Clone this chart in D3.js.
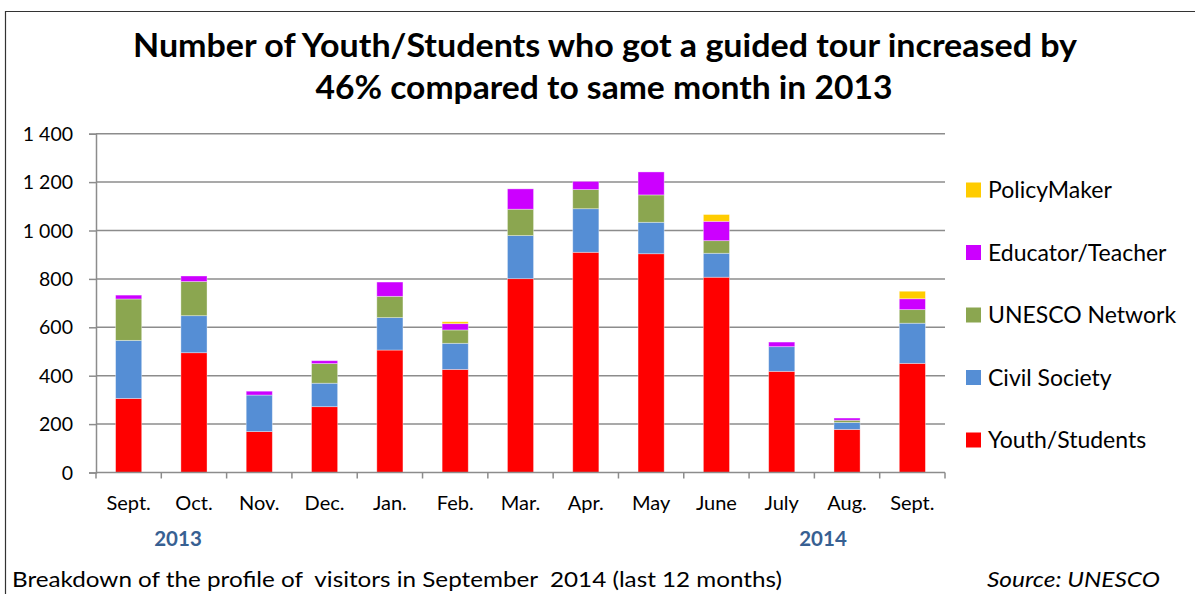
<!DOCTYPE html>
<html><head><meta charset="utf-8">
<script src="https://cdn.jsdelivr.net/npm/d3@7"></script>
<style>
body{margin:0;background:#fff;}
text{font-family:Lato,"Open Sans",sans-serif;}
</style></head>
<body><svg id="c" width="1195" height="594"></svg>
<script>
const months = ["Sept.","Oct.","Nov.","Dec.","Jan.","Feb.","Mar.","Apr.","May","June","July","Aug.","Sept."];
const youthStudents   = [306,495,169,272,506,426,801,910,904,807,418,178,451];
const civilSociety    = [240,153,151, 97,134,108,178,180,130, 99,102, 29,166];
const unescoNetwork   = [171,141,  0, 81, 88, 55,109, 79,113, 52,  0,  9, 56];
const educatorTeacher = [ 16, 23, 16, 12, 59, 26, 84, 34, 95, 80, 19,  9, 45];
const policyMaker     = [  0,  0,  0,  0,  0,  8,  0,  0,  0, 28,  0,  0, 31];
const seriesNames = ["Youth/Students","Civil Society","UNESCO Network","Educator/Teacher","PolicyMaker"];
const seriesColors = ["#FF0000","#558ED5","#8BA650","#CC00FF","#FFCC00"];
const yTicks = [0,200,400,600,800,1000,1200,1400];
const yearLabels = [{label:"2013", x:178},{label:"2014", x:823}];

const seriesValues = [youthStudents, civilSociety, unescoNetwork, educatorTeacher, policyMaker];
const rows = months.map((m,i)=>{const r={key:i}; seriesNames.forEach((s,j)=>r[s]=seriesValues[j][i]); return r;});

const svg = d3.select("#c");
const L=96, R=945, T=133.7, B=472.5;
const x = d3.scaleBand().domain(months.map((m,i)=>i)).range([L,R]).paddingInner(0.6).paddingOuter(0.3);
const y = d3.scaleLinear().domain([0,1400]).range([B,T]);

// chart border
svg.append("path").attr("d","M5.5,594 L5.5,11.5 L1195,11.5").attr("fill","none").attr("stroke","#333").attr("stroke-width",1.2);

// title
const title = svg.append("text").attr("text-anchor","middle").attr("font-weight","bold").attr("font-size",32).attr("fill","#000");
title.append("tspan").attr("x",605).attr("y",57).text("Number of Youth/Students who got a guided tour increased by").attr("textLength",944).attr("lengthAdjust","spacingAndGlyphs");
title.append("tspan").attr("x",604).attr("y",99).text("46% compared to same month in 2013").attr("textLength",577).attr("lengthAdjust","spacingAndGlyphs");

// gridlines
svg.append("g").selectAll("line").data(yTicks.filter(d=>d>0)).join("line")
  .attr("x1",L).attr("x2",R).attr("y1",d=>y(d)).attr("y2",d=>y(d))
  .attr("stroke","#8c8c8c").attr("stroke-width",1.5);

// y axis
const yAxis = svg.append("g").attr("transform",`translate(${L},0)`)
  .call(d3.axisLeft(y).tickValues(yTicks).tickSize(7).tickPadding(16).tickFormat(d=>d3.format(",")(d).replace(","," ")));
yAxis.select(".domain").attr("stroke","#8c8c8c").attr("stroke-width",1.5);
yAxis.selectAll(".tick line").attr("stroke","#8c8c8c").attr("stroke-width",1.5);
yAxis.selectAll("text").attr("font-size",19.5).attr("fill","#000").attr("font-family","Lato").attr("dy","0.34em");

// stacked bars
const stack = d3.stack().keys(seriesNames)(rows);
svg.append("g").selectAll("g").data(stack).join("g").attr("fill",(d,i)=>seriesColors[i])
  .selectAll("rect").data(d=>d).join("rect")
  .attr("x",(d,i)=>x(i)).attr("width",x.bandwidth())
  .attr("y",d=>y(d[1])).attr("height",d=>y(d[0])-y(d[1]))
  .attr("stroke","rgba(255,255,255,0.45)").attr("stroke-width",0.8);

// x axis
const band = (R-L)/months.length;
const xAxis = svg.append("g").attr("transform",`translate(0,${B})`);
xAxis.append("line").attr("x1",L).attr("x2",R).attr("stroke","#8c8c8c").attr("stroke-width",1.5);
xAxis.selectAll(".tk").data(d3.range(months.length+1)).join("line").attr("class","tk")
  .attr("x1",i=>L+i*band).attr("x2",i=>L+i*band).attr("y1",0).attr("y2",6)
  .attr("stroke","#8c8c8c").attr("stroke-width",1.5);
xAxis.selectAll(".lb").data(months).join("text").attr("class","lb")
  .attr("x",(d,i)=>x(i)+x.bandwidth()/2).attr("y",37.5).attr("text-anchor","middle")
  .attr("font-size",20).attr("fill","#000").text(d=>d);

// year labels
svg.selectAll(".yr").data(yearLabels).join("text").attr("class","yr")
  .attr("x",d=>d.x).attr("y",546).attr("text-anchor","middle")
  .attr("font-size",20.5).attr("font-weight","bold").attr("fill","#376092").text(d=>d.label);

// legend
const legendOrder = [4,3,2,1,0];
const lg = svg.append("g");
legendOrder.forEach((si,k)=>{
  const cy = 190 + k*62.5;
  lg.append("rect").attr("x",966).attr("y",cy-7.5).attr("width",15).attr("height",15).attr("fill",seriesColors[si]);
  lg.append("text").attr("x",988).attr("y",cy+8).attr("font-size",23).attr("fill","#000").text(seriesNames[si]);
});

// footer
svg.append("text").attr("x",12).attr("y",587).attr("font-size",21.5).attr("fill","#000")
  .attr("xml:space","preserve").text("Breakdown of the profile of  visitors in September  2014 (last 12 months)").attr("textLength",770).attr("lengthAdjust","spacingAndGlyphs");
svg.append("text").attr("x",1160).attr("y",587).attr("text-anchor","end").attr("font-size",22).attr("font-style","italic").attr("fill","#000").text("Source: UNESCO").attr("textLength",173).attr("lengthAdjust","spacingAndGlyphs");
</script></body></html>
